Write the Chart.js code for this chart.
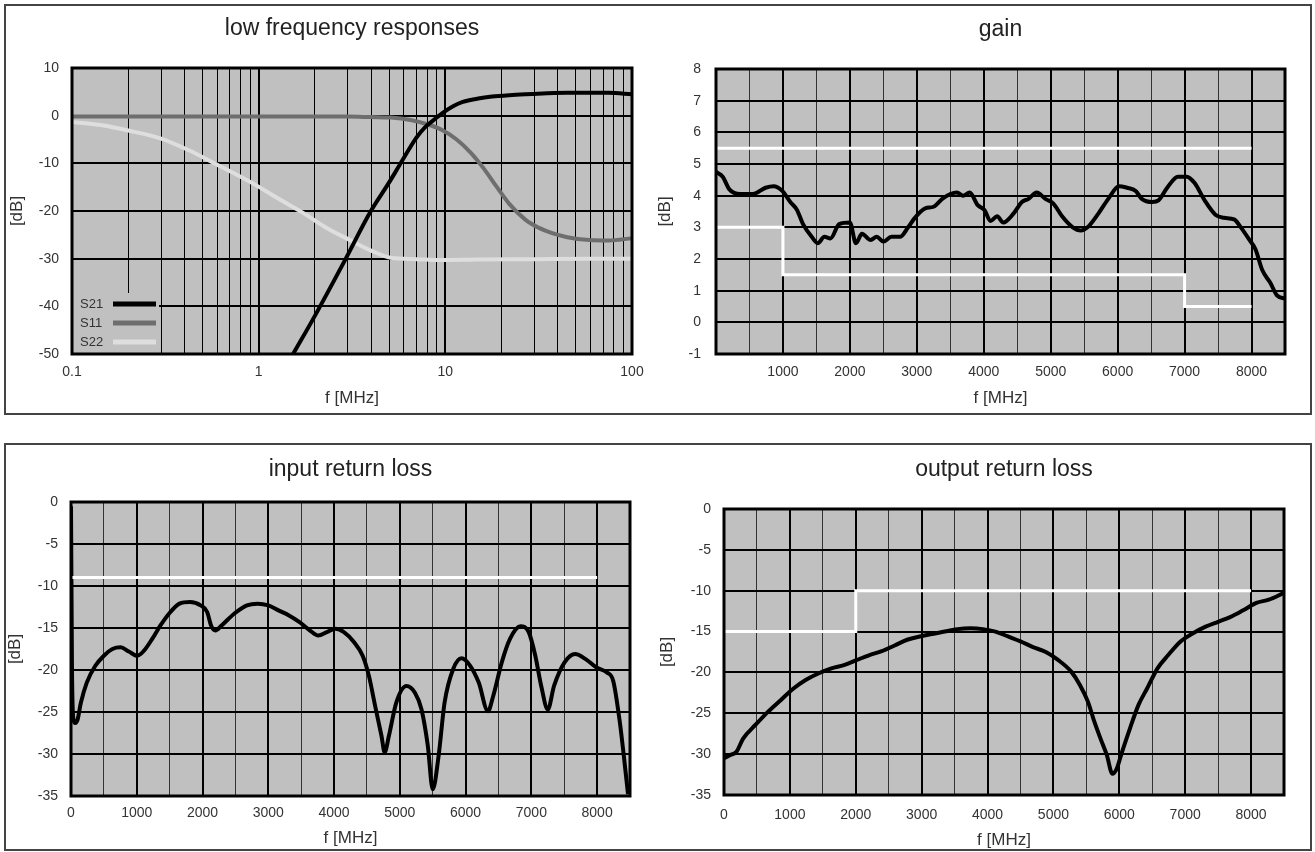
<!DOCTYPE html>
<html>
<head>
<meta charset="utf-8">
<script src="https://cdn.jsdelivr.net/npm/chart.js@4.4.0/dist/chart.umd.min.js"></script>
<style>
  body { margin: 0; background: #fff; width: 1315px; height: 852px; overflow: hidden; position: relative; }
  .box { position: absolute; box-sizing: border-box; border: 2px solid #444; }
  canvas { position: absolute; }
</style>
</head>
<body>
<div class="box" style="left:4px;top:4px;width:1308px;height:411px"></div>
<div class="box" style="left:4px;top:443px;width:1308px;height:408px"></div>
<canvas id="lf"></canvas>
<canvas id="gain"></canvas>
<canvas id="irl"></canvas>
<canvas id="orl"></canvas>
<script>
// ---- low frequency responses (log x) ----
const lfTickValues = [0.1, 0.2, 0.3, 0.4, 0.5, 0.6, 0.7, 0.8, 0.9,
                      1, 2, 3, 4, 5, 6, 7, 8, 9,
                      10, 20, 30, 40, 50, 60, 70, 80, 90, 100];
const lfTickLabels = [0.1, 1, 10, 100];

const s21Freq = [1.53, 2.0, 2.9, 3.95, 5.0, 5.7, 7.0, 7.8, 9.0, 9.6, 11, 12.4, 15, 17.8, 22, 27, 35, 45, 59, 75, 100];
const s21Db   = [-50, -42, -30.3, -20.3, -14, -10.3, -4.6, -2.4, -0.4, 0.5, 2, 2.9, 3.6, 4.0, 4.3, 4.5, 4.7, 4.8, 4.8, 4.8, 4.5];

const s11Freq = [0.1, 0.2, 0.5, 1, 2, 3, 4, 5.1, 6.5, 8, 9.6, 11.5, 13.7, 16, 18.9, 22, 27, 32, 37, 45, 59, 75, 100];
const s11Db   = [-0.2, -0.2, -0.2, -0.2, -0.2, -0.2, -0.3, -0.4, -0.9, -1.8, -3, -5, -7.8, -11, -15, -18.5, -21.9, -23.6, -24.6, -25.5, -26.1, -26.2, -25.7];

const s22Freq = [0.1, 0.15, 0.194, 0.3, 0.42, 0.6, 0.92, 1.3, 1.73, 2.3, 3.05, 4, 5.1, 7, 9.3, 15, 30, 60, 100];
const s22Db   = [-1.3, -2.1, -3, -4.8, -7.2, -10.3, -14.1, -17.6, -20.4, -23.5, -26, -28.3, -29.8, -30.1, -30.3, -30.2, -30.1, -30.0, -30.0];

// ---- gain ----
const gainFreq = [0, 100, 200, 360, 550, 740, 860, 990, 1110, 1210, 1300, 1430, 1520, 1620, 1710, 1840, 2000, 2090, 2180, 2310,
                  2400, 2500, 2620, 2750, 2870, 2970, 3125, 3250, 3380, 3500, 3600, 3690, 3790, 3910, 4010, 4100, 4200, 4290, 4450, 4570,
                  4670, 4790, 4920, 5040, 5170, 5330, 5450, 5550, 5700, 5860, 6020, 6140, 6270, 6360, 6520, 6610, 6740, 6900, 7030, 7150,
                  7300, 7460, 7590, 7740, 7840, 7970, 8060, 8160, 8280, 8380, 8500];
const gainDb   = [4.75, 4.6, 4.2, 4.05, 4.05, 4.25, 4.3, 4.15, 3.8, 3.55, 3.1, 2.7, 2.5, 2.7, 2.65, 3.1, 3.15, 2.5, 2.8, 2.6,
                  2.7, 2.55, 2.7, 2.7, 3.0, 3.3, 3.6, 3.65, 3.9, 4.05, 4.1, 4.0, 4.1, 3.7, 3.55, 3.2, 3.35, 3.15, 3.45, 3.8,
                  3.9, 4.1, 3.9, 3.75, 3.35, 3.0, 2.9, 3.0, 3.4, 3.9, 4.3, 4.25, 4.15, 3.9, 3.8, 3.85, 4.25, 4.6, 4.6, 4.4,
                  3.85, 3.4, 3.3, 3.25, 3.0, 2.6, 2.3, 1.65, 1.25, 0.85, 0.75];
const gainMaxFreq = [0, 8000];
const gainMax     = [5.5, 5.5];
const gainMinFreq = [0, 1000, 1000, 7000, 7000, 8000];
const gainMin     = [3, 3, 1.5, 1.5, 0.5, 0.5];

// ---- input return loss ----
const irlFreq = [0, 15, 38, 64, 100, 150, 240, 370, 500, 630, 755, 880, 1010, 1110, 1235, 1360, 1490, 1650, 1810, 1970,
                 2070, 2130, 2195, 2290, 2480, 2675, 2835, 3000, 3155, 3315, 3475, 3635, 3760, 3890, 4020, 4150, 4305, 4435, 4530, 4625,
                 4720, 4770, 4835, 4945, 5100, 5230, 5330, 5425, 5500, 5590, 5680, 5810, 5940, 6070, 6200, 6340, 6420, 6550, 6675, 6835,
                 6960, 7060, 7150, 7250, 7345, 7505, 7665, 7825, 7990, 8150, 8245, 8340, 8400, 8470];
const irlDb   = [-0.5, -19.9, -25.9, -26.3, -25.9, -23.9, -21.5, -19.5, -18.3, -17.5, -17.3, -17.8, -18.3, -17.7, -16.3, -14.7, -13.3, -12.1, -11.9, -12.3,
                 -13.1, -14.7, -15.3, -14.7, -13.3, -12.3, -12.1, -12.3, -12.9, -13.5, -14.3, -15.3, -15.9, -15.5, -15.1, -15.5, -16.7, -18.3, -20.7, -24.3,
                 -27.8, -29.8, -27.8, -23.9, -21.9, -22.7, -24.7, -29.0, -34.2, -30.2, -23.9, -19.9, -18.6, -19.5, -21.5, -24.9, -23.1, -19.1, -16.3, -14.8,
                 -15.5, -18.3, -21.9, -24.7, -21.9, -19.1, -18.1, -18.7, -19.7, -20.3, -21.3, -25.9, -29.8, -34.8];
const irlLimFreq = [0, 8000];
const irlLim     = [-9, -9];

// ---- output return loss ----
const orlFreq = [0, 96, 190, 290, 480, 670, 860, 1050, 1245, 1440, 1630, 1820, 2010, 2200, 2395, 2590, 2780, 2970, 3160, 3350,
                 3545, 3740, 3930, 4120, 4310, 4500, 4690, 4885, 5075, 5270, 5400, 5525, 5620, 5715, 5810, 5895, 5960, 6035, 6160, 6290,
                 6420, 6580, 6740, 6930, 7120, 7310, 7500, 7690, 7880, 8080, 8270, 8490];
const orlDb   = [-30.5, -30.1, -29.7, -28.1, -26.4, -24.8, -23.4, -22.0, -20.9, -20.1, -19.5, -19.1, -18.5, -17.9, -17.4, -16.7, -16.0, -15.6, -15.3, -15.0,
                 -14.7, -14.6, -14.7, -15.0, -15.6, -16.2, -16.9, -17.5, -18.5, -19.9, -21.5, -23.6, -26.0, -28.1, -30.1, -32.4, -31.8, -29.9, -26.9, -24.0,
                 -22.0, -19.5, -17.9, -16.2, -15.2, -14.4, -13.8, -13.2, -12.4, -11.5, -11.1, -10.3];
const orlLimFreq = [0, 2000, 2000, 8000];
const orlLim     = [-15, -15, -10, -10];

// ---- look ----
const FONT = '"Liberation Sans", Arial, sans-serif';
const TITLE_SIZE = 23, AXIS_SIZE = 17, TICK_SIZE = 14;
const PLOT_BG = '#c0c0c0';

Chart.defaults.font.family = FONT;
Chart.defaults.color = '#333';

// canvas rect [left, top, w, h], plot rect [left, right, top, bottom] in page px
const panels = {
  lf:   {cv: [6, 6, 648, 406],   plot: [72, 632, 68, 354],   titleY: 29,  yTitleX: 17,    xTitleY: 398, yPad: 13, xPad: 10},
  gain: {cv: [655, 6, 654, 406], plot: [716, 1285, 69, 354], titleY: 30,  yTitleX: 665.5, xTitleY: 398, yPad: 15, xPad: 10},
  irl:  {cv: [6, 445, 648, 404], plot: [71, 630, 502, 796],  titleY: 470, yTitleX: 15,    xTitleY: 838, yPad: 13, xPad: 9},
  orl:  {cv: [655, 445, 654, 404], plot: [724, 1284, 509, 795], titleY: 470, yTitleX: 667.5, xTitleY: 840, yPad: 13, xPad: 12}
};

function pts(xs, ys) {
  return xs.map((x, i) => ({x: x, y: ys[i]}));
}

function curve(label, xs, ys, color, width) {
  return {
    label: label,
    data: pts(xs, ys),
    borderColor: color,
    borderWidth: width,
    pointRadius: 0,
    cubicInterpolationMode: 'monotone',
    fill: false
  };
}

function limit(xs, ys) {
  return {data: pts(xs, ys), borderColor: '#ffffff', borderWidth: 3, pointRadius: 0, tension: 0, fill: false};
}

const plotBg = {
  id: 'plotBg',
  beforeDraw(chart) {
    const a = chart.chartArea, ctx = chart.ctx;
    ctx.save();
    ctx.fillStyle = PLOT_BG;
    ctx.fillRect(a.left, a.top, a.right - a.left, a.bottom - a.top);
    ctx.restore();
  }
};

const plotFrame = {
  id: 'plotFrame',
  afterDraw(chart) {
    const a = chart.chartArea, ctx = chart.ctx;
    ctx.save();
    ctx.strokeStyle = '#000';
    ctx.lineWidth = 3;
    ctx.strokeRect(a.left, a.top, a.right - a.left, a.bottom - a.top);
    ctx.restore();
  }
};

const insideLegend = {
  id: 'insideLegend',
  afterDatasetsDraw(chart) {
    const a = chart.chartArea, ctx = chart.ctx;
    ctx.save();
    ctx.fillStyle = PLOT_BG;
    ctx.fillRect(a.left, a.bottom - 61, 87, 61);
    ctx.font = '13px ' + FONT;
    ctx.textBaseline = 'middle';
    chart.data.datasets.forEach((ds, i) => {
      const y = a.bottom - 50 + i * 19;
      ctx.fillStyle = '#333';
      ctx.fillText(ds.label, a.left + 8, y);
      ctx.strokeStyle = ds.borderColor;
      ctx.lineWidth = 5;
      ctx.beginPath();
      ctx.moveTo(a.left + 41, y);
      ctx.lineTo(a.left + 84, y);
      ctx.stroke();
    });
    ctx.restore();
  }
};

function makeChart(id, title, xOpts, yOpts, datasets, extra) {
  const p = panels[id];
  const [cl, ct, cw, ch] = p.cv;
  const [pl, pr, pt, pb] = p.plot;
  const tLh = TITLE_SIZE * 1.2, aLh = AXIS_SIZE * 1.2;
  const tTop = p.titleY - ct - tLh / 2;
  const tBot = pt - ct - tTop - tLh;
  const padL = p.yTitleX - cl - aLh / 2;
  const yW = pl - cl - padL;
  const xH = p.xTitleY - pb + aLh / 2;
  const padB = ct + ch - pb - xH;
  const padR = cl + cw - pr;

  const canvas = document.getElementById(id);
  canvas.width = cw;
  canvas.height = ch;
  canvas.style.left = cl + 'px';
  canvas.style.top = ct + 'px';

  const axisTitle = (text) => ({display: true, text: text, font: {size: AXIS_SIZE}, color: '#333', padding: 0});

  new Chart(canvas, {
    type: 'line',
    data: {datasets: datasets},
    options: {
      responsive: false,
      animation: false,
      events: [],
      layout: {padding: {left: padL, right: padR, top: 0, bottom: padB}},
      plugins: {
        legend: {display: false},
        tooltip: {enabled: false},
        title: {
          display: true, text: title, fullSize: false, color: '#222',
          font: {size: TITLE_SIZE, weight: 'normal'},
          padding: {top: tTop, bottom: tBot}
        }
      },
      scales: {
        x: Object.assign({
          border: {display: false},
          title: axisTitle('f [MHz]'),
          afterFit: (s) => { s.height = xH; }
        }, xOpts, {
          ticks: Object.assign({padding: p.xPad, autoSkip: false, maxRotation: 0, font: {size: TICK_SIZE}, color: '#333'}, xOpts.ticks),
          grid: Object.assign({drawTicks: false}, xOpts.grid)
        }),
        y: Object.assign({
          border: {display: false},
          title: axisTitle('[dB]'),
          afterFit: (s) => { s.width = yW; }
        }, yOpts, {
          ticks: Object.assign({padding: p.yPad, font: {size: TICK_SIZE}, color: '#333'}, yOpts.ticks),
          grid: {drawTicks: false, color: '#000', lineWidth: 2}
        })
      }
    },
    plugins: [plotBg].concat(extra || [], [plotFrame])
  });
}

// linear frequency axis: grid every 500, labels every 1000
function linX(showZero) {
  return {
    type: 'linear', min: 0, max: 8500,
    ticks: {
      stepSize: 500,
      callback: (v) => (v % 1000 === 0 && (showZero || v !== 0)) ? String(v) : ''
    },
    grid: {
      color: (c) => (c.tick && c.tick.value % 1000 === 0) ? '#000' : '#333',
      lineWidth: (c) => (c.tick && c.tick.value % 1000 === 0) ? 2 : 1
    }
  };
}

makeChart('lf', 'low frequency responses',
  {
    type: 'logarithmic', min: 0.1, max: 100,
    afterBuildTicks: (s) => { s.ticks = lfTickValues.map((v) => ({value: v})); },
    ticks: {callback: (v) => lfTickLabels.includes(v) ? String(v) : ''},
    grid: {
      color: '#000',
      lineWidth: (c) => (c.tick && lfTickLabels.includes(c.tick.value)) ? 2 : 1
    }
  },
  {type: 'linear', min: -50, max: 10, ticks: {stepSize: 10}},
  [
    curve('S21', s21Freq, s21Db, '#000000', 4),
    curve('S11', s11Freq, s11Db, '#6e6e6e', 4),
    curve('S22', s22Freq, s22Db, '#dedede', 4)
  ],
  [insideLegend]
);

makeChart('gain', 'gain',
  linX(false),
  {type: 'linear', min: -1, max: 8, ticks: {stepSize: 1}},
  [
    limit(gainMaxFreq, gainMax),
    limit(gainMinFreq, gainMin),
    curve('gain', gainFreq, gainDb, '#000000', 4)
  ]
);

makeChart('irl', 'input return loss',
  linX(true),
  {type: 'linear', min: -35, max: 0, ticks: {stepSize: 5}},
  [
    limit(irlLimFreq, irlLim),
    curve('S11', irlFreq, irlDb, '#000000', 4)
  ]
);

makeChart('orl', 'output return loss',
  linX(true),
  {type: 'linear', min: -35, max: 0, ticks: {stepSize: 5}},
  [
    limit(orlLimFreq, orlLim),
    curve('S22', orlFreq, orlDb, '#000000', 4)
  ]
);
</script>
</body>
</html>
